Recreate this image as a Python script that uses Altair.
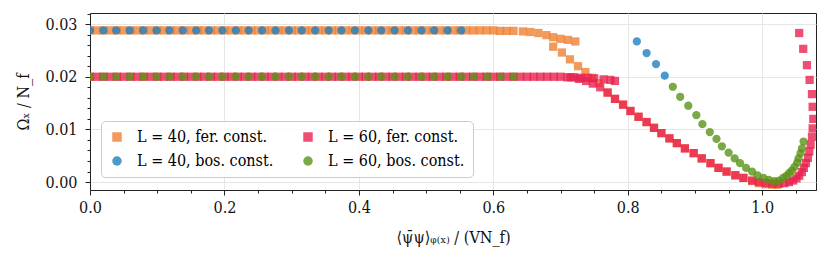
import altair as alt
import pandas as pd

# ---------------- data ----------------
S_L40F = "L = 40, fer. const."
S_L40B = "L = 40, bos. const."
S_L60F = "L = 60, fer. const."
S_L60B = "L = 60, bos. const."

# L = 40, fermionic constraint (orange squares)
l40f_x = [0.00, 0.01, 0.02, 0.03, 0.04, 0.05, 0.06, 0.07, 0.08, 0.09,
          0.10, 0.11, 0.12, 0.13, 0.14, 0.15, 0.16, 0.17, 0.18, 0.19,
          0.20, 0.21, 0.22, 0.23, 0.24, 0.25, 0.26, 0.27, 0.28, 0.29,
          0.30, 0.31, 0.32, 0.33, 0.34, 0.35, 0.36, 0.37, 0.38, 0.39,
          0.40, 0.41, 0.42, 0.43, 0.44, 0.45, 0.46, 0.47, 0.48, 0.49,
          0.50, 0.51, 0.52, 0.53, 0.54, 0.55, 0.56, 0.57, 0.58, 0.59,
          0.60, 0.61, 0.62, 0.63, 0.644, 0.655, 0.667, 0.679, 0.689, 0.700,
          0.711, 0.722,
          0.689, 0.702, 0.714, 0.726, 0.737, 0.747, 0.757, 0.770, 0.781, 0.793,
          0.804, 0.816, 0.828, 0.839, 0.850, 0.862, 0.873, 0.885, 0.898, 0.910,
          0.923, 0.935, 0.947, 0.960, 0.972, 0.985, 0.995, 1.005, 1.015, 1.022]
l40f_y = [0.0288] * 60 + [
          0.0288, 0.0287, 0.0287, 0.0287, 0.0286, 0.0285, 0.0283, 0.0279, 0.0275, 0.0272,
          0.0270, 0.0267,
          0.0257, 0.0246, 0.0233, 0.0220, 0.0209, 0.0198, 0.0188, 0.0170, 0.0158, 0.0147,
          0.0135, 0.0124, 0.0114, 0.0103, 0.0093, 0.0083, 0.0074, 0.0064, 0.0055, 0.0045,
          0.0036, 0.0027, 0.0020, 0.0013, 0.0008, 0.0002, -0.0002, -0.0004, -0.0005, -0.0005]

# L = 40, bosonic constraint (blue circles)
l40b_x = [0.000, 0.020, 0.039, 0.059, 0.079, 0.099, 0.118, 0.138, 0.158, 0.177,
          0.197, 0.217, 0.236, 0.256, 0.276, 0.296, 0.315, 0.335, 0.355, 0.374,
          0.394, 0.414, 0.433, 0.453, 0.473, 0.493, 0.512, 0.532, 0.552,
          0.8135, 0.828, 0.842, 0.855]
l40b_y = [0.0288] * 29 + [0.0267, 0.0245, 0.0224, 0.0202]

# L = 60, fermionic constraint (pink squares)
l60f_x = [0.00, 0.01, 0.02, 0.03, 0.04, 0.05, 0.06, 0.07, 0.08, 0.09,
          0.10, 0.11, 0.12, 0.13, 0.14, 0.15, 0.16, 0.17, 0.18, 0.19,
          0.20, 0.21, 0.22, 0.23, 0.24, 0.25, 0.26, 0.27, 0.28, 0.29,
          0.30, 0.31, 0.32, 0.33, 0.34, 0.35, 0.36, 0.37, 0.38, 0.39,
          0.40, 0.41, 0.42, 0.43, 0.44, 0.45, 0.46, 0.47, 0.48, 0.49,
          0.50, 0.51, 0.52, 0.53, 0.54, 0.55, 0.56, 0.57, 0.58, 0.59,
          0.60, 0.61, 0.62, 0.63, 0.64, 0.65, 0.66, 0.67, 0.68, 0.69,
          0.70, 0.71, 0.72, 0.73, 0.74, 0.75, 0.764, 0.774, 0.781,
          0.715, 0.727, 0.738, 0.748, 0.759, 0.770, 0.781, 0.793, 0.804, 0.816,
          0.828, 0.839, 0.850, 0.862, 0.873, 0.885, 0.898, 0.910, 0.923, 0.935,
          0.947, 0.960, 0.972, 0.985, 0.995, 1.005, 1.015, 1.025, 1.033, 1.040,
          1.046, 1.051, 1.055, 1.059, 1.062, 1.065, 1.068, 1.070, 1.072, 1.074,
          1.075, 1.076, 1.075, 1.074, 1.0705, 1.0665, 1.061, 1.055]
l60f_y = [0.0200] * 70 + [
          0.0200, 0.0199, 0.0199, 0.0198, 0.0198, 0.0197, 0.0195, 0.0194, 0.0192,
          0.0199, 0.0196, 0.0192, 0.0187, 0.0180, 0.0170, 0.0158, 0.0147, 0.0135, 0.0124,
          0.0114, 0.0103, 0.0093, 0.0083, 0.0074, 0.0064, 0.0055, 0.0045, 0.0036, 0.0027,
          0.0020, 0.0013, 0.0008, 0.0003, 0.0000, -0.0002, -0.0003, -0.0003, -0.0002, 0.0000,
          0.0003, 0.0007, 0.0012, 0.0019, 0.0027, 0.0036, 0.0046, 0.0058, 0.0071, 0.0086,
          0.0102, 0.0120, 0.0143, 0.0167, 0.0194, 0.0222, 0.0253, 0.0283]

# L = 60, bosonic constraint (green circles)
l60b_x = [0.000, 0.020, 0.039, 0.059, 0.079, 0.099, 0.118, 0.138, 0.158, 0.177,
          0.197, 0.217, 0.236, 0.256, 0.276, 0.296, 0.315, 0.335, 0.355, 0.374,
          0.394, 0.414, 0.433, 0.453, 0.473, 0.493, 0.512, 0.532, 0.552, 0.571,
          0.591, 0.611, 0.630,
          0.867, 0.878, 0.890, 0.902, 0.911, 0.922, 0.932, 0.940, 0.950, 0.959,
          0.967, 0.976, 0.985, 0.993, 1.002, 1.010, 1.018, 1.025, 1.031, 1.036,
          1.040, 1.044, 1.048, 1.052, 1.054, 1.057, 1.059, 1.0615]
l60b_y = [0.0200] * 33 + [
          0.0181, 0.0162, 0.0145, 0.0127, 0.0110, 0.0095, 0.0082, 0.0068, 0.0056, 0.0045,
          0.0036, 0.0027, 0.0020, 0.0013, 0.0008, 0.0004, 0.0002, 0.0003, 0.0008, 0.0012,
          0.0017, 0.0022, 0.0029, 0.0037, 0.0045, 0.0055, 0.0064, 0.0077]

series_order = [S_L40F, S_L40B, S_L60F, S_L60B]        # drawing & legend order
colors = {S_L40F: "#ef7f33", S_L40B: "#1f80c0", S_L60F: "#e8224f", S_L60B: "#5a9418"}
shapes = {S_L40F: "square", S_L40B: "circle", S_L60F: "square", S_L60B: "circle"}

x_major = [0.0, 0.2, 0.4, 0.6, 0.8, 1.0]
x_minor = [0.05, 0.1, 0.15, 0.25, 0.3, 0.35, 0.45, 0.5, 0.55, 0.65, 0.7, 0.75,
           0.85, 0.9, 0.95, 1.05]
y_major = [0.00, 0.01, 0.02, 0.03]
y_minor = [0.002, 0.004, 0.006, 0.008, 0.012, 0.014, 0.016, 0.018,
           0.022, 0.024, 0.026, 0.028, 0.032]

# ---------------- build table ----------------
frames = []
for name, xs, ys in [(S_L40F, l40f_x, l40f_y), (S_L40B, l40b_x, l40b_y),
                     (S_L60F, l60f_x, l60f_y), (S_L60B, l60b_x, l60b_y)]:
    frames.append(pd.DataFrame({"x": xs, "y": ys, "series": name}))
df = pd.concat(frames, ignore_index=True)

FONT = "'DejaVu Serif Condensed', 'DejaVu Serif'"
xscale = alt.Scale(domain=[0, 1.08], nice=False, zero=False)
yscale = alt.Scale(domain=[-0.0015, 0.0321], nice=False, zero=False)

main = alt.Chart(df).mark_point(filled=True, opacity=0.8, strokeWidth=1, clip=True).encode(
    x=alt.X("x:Q", scale=xscale,
            axis=alt.Axis(values=x_major, format=".1f", tickSize=5, grid=True, labelPadding=4,
                          labelFont=FONT, titleFont=FONT, labelFlush=False,
                          title="⟨ψ̄ψ⟩ᵩ₍ₓ₎ / (VN_f)", titlePadding=14)),
    y=alt.Y("y:Q", scale=yscale,
            axis=alt.Axis(values=y_major, format=".2f", tickSize=5, grid=True, labelPadding=8,
                          labelFont=FONT, titleFont=FONT, labelFlush=False,
                          title="Ωₓ / N_f", titlePadding=13)),
    color=alt.Color("series:N",
                    scale=alt.Scale(domain=series_order, range=[colors[s] for s in series_order]),
                    legend=alt.Legend(title=None, orient="none", legendX=11, legendY=108,
                                      columns=2, columnPadding=26, rowPadding=8,
                                      symbolSize=90, labelFontSize=16, labelFont=FONT,
                                      fillColor="rgba(255,255,255,0.85)", strokeColor="#cccccc",
                                      cornerRadius=4, padding=8, symbolOpacity=0.8,
                                      labelOffset=12, labelLimit=300)),
    shape=alt.Shape("series:N",
                    scale=alt.Scale(domain=series_order, range=[shapes[s] for s in series_order]),
                    legend=None),
    size=alt.value(68),
)

minor = alt.Chart(pd.DataFrame({"x": [0.5], "y": [0.01]})).mark_point(opacity=0).encode(
    x=alt.X("x:Q", scale=xscale,
            axis=alt.Axis(values=x_minor, labels=False, tickSize=3, grid=False, domain=False,
                          title=None, orient="bottom")),
    y=alt.Y("y:Q", scale=yscale,
            axis=alt.Axis(values=y_minor, labels=False, tickSize=3, grid=False, domain=False,
                          title=None, orient="left")),
)

chart = alt.layer(main, minor).resolve_axis(x="independent", y="independent").properties(
    width=726, height=177,
    autosize=alt.AutoSizeParams(type="none"),
    padding={"left": 82, "top": 5, "right": 6, "bottom": 69},
).configure_view(stroke="#222222", strokeWidth=1).configure_axis(
    labelFont=FONT, titleFont=FONT, labelFontSize=16, titleFontSize=16,
    labelColor="#111111", titleColor="#111111", tickColor="#222222", domainColor="#222222",
    gridColor="#e6e6e6", gridWidth=1, titleFontWeight="normal",
)

chart.save("out.html", embed_options={"renderer": "svg", "actions": False})
